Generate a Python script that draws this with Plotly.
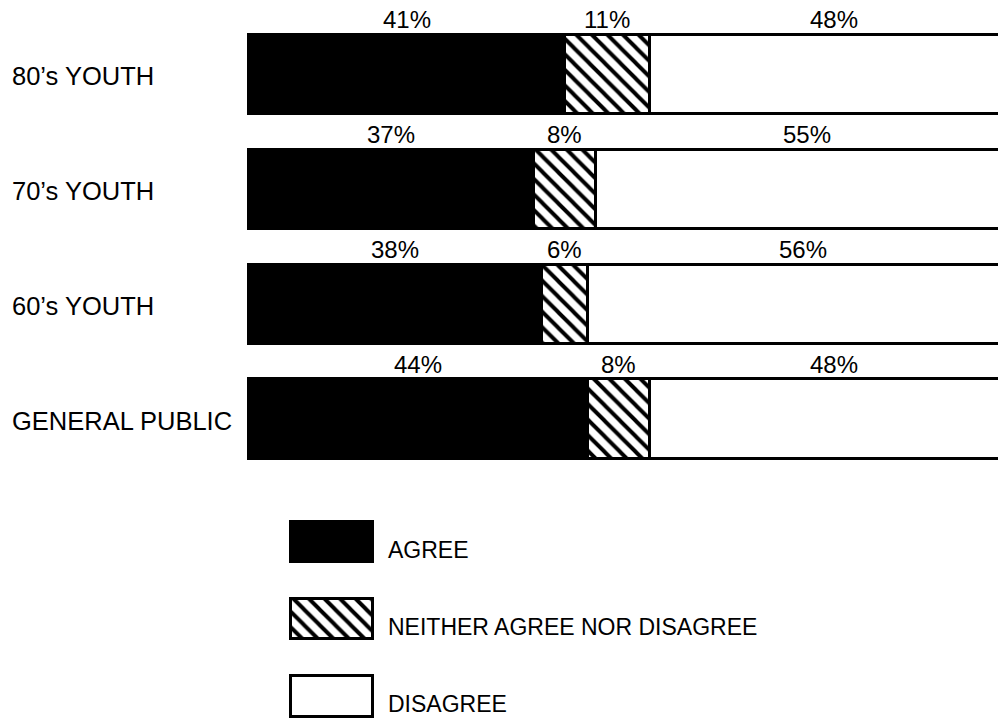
import plotly.graph_objects as go

# Survey responses by group (percent)
groups = ["80’s YOUTH", "70’s YOUTH", "60’s YOUTH", "GENERAL PUBLIC"]
agree = [41, 37, 38, 44]
neither = [11, 8, 6, 8]
disagree = [48, 55, 56, 48]
legend_labels = ["AGREE", "NEITHER AGREE NOR DISAGREE", "DISAGREE"]

W, H = 998, 718
FONT = "Liberation Sans, Arial, Helvetica, sans-serif"
INK = "black"

hatch = dict(shape="\\", fgcolor=INK, bgcolor="white", size=11, solidity=0.36,
             fgopacity=1)
styles = [
    dict(color=INK, line=dict(color=INK, width=3)),
    dict(color="white", line=dict(color=INK, width=3), pattern=hatch),
    dict(color="white", line=dict(color=INK, width=3)),
]
series = [agree, neither, disagree]

fig = go.Figure()

# main stacked bars
for name, vals, st in zip(legend_labels, series, styles):
    fig.add_trace(go.Bar(
        y=groups, x=vals, orientation="h", name=name, marker=st,
        width=0.69, showlegend=False, hoverinfo="skip",
        xaxis="x", yaxis="y",
    ))

# key swatches drawn as bars on their own small axes
for i, (name, st) in enumerate(zip(legend_labels, styles)):
    fig.add_trace(go.Bar(
        y=[i], x=[1], base=[0], orientation="h", name=name, marker=st,
        width=0.52, showlegend=False, hoverinfo="skip",
        xaxis="x2", yaxis="y2",
    ))

annotations = []

# percentage labels above each segment
for gi, g in enumerate(groups):
    start = 0
    for vals in series:
        v = vals[gi]
        annotations.append(dict(
            x=start + v / 2, y=g, xref="x", yref="y", text=f"{v}%",
            showarrow=False, yshift=54, yanchor="middle",
            font=dict(family=FONT, size=24, color=INK),
        ))
        start += v

# group names on the left
for g in groups:
    annotations.append(dict(
        x=10 / W, y=g, xref="paper", yref="y", text=g, showarrow=False,
        xanchor="left", yanchor="middle", yshift=-2,
        font=dict(family=FONT, size=25.5, color=INK),
    ))

# key texts
for i, name in enumerate(legend_labels):
    annotations.append(dict(
        x=386 / W, y=i, xref="paper", yref="y2", text=name, showarrow=False,
        xanchor="left", yanchor="middle", yshift=-8,
        font=dict(family=FONT, size=23, color=INK),
    ))

hidden = dict(showgrid=False, zeroline=False, showticklabels=False,
              showline=False, ticks="", fixedrange=True)

fig.update_layout(
    width=W, height=H,
    margin=dict(l=0, r=0, t=0, b=0),
    paper_bgcolor="white", plot_bgcolor="white",
    barmode="stack",
    xaxis=dict(domain=[247 / W, 1], range=[-0.25, 97.3], **hidden),
    yaxis=dict(domain=[1 - 476 / H, 1 - 16.5 / H], type="category",
               categoryorder="array", categoryarray=groups,
               range=[3.5, -0.5], **hidden),
    xaxis2=dict(domain=[288 / W, 375 / W], range=[-0.03, 1.03],
                anchor="y2", **hidden),
    yaxis2=dict(domain=[0, 218 / H], range=[2.286, -0.545],
                anchor="x2", **hidden),
    annotations=annotations,
)

fig.write_html("out.html")
